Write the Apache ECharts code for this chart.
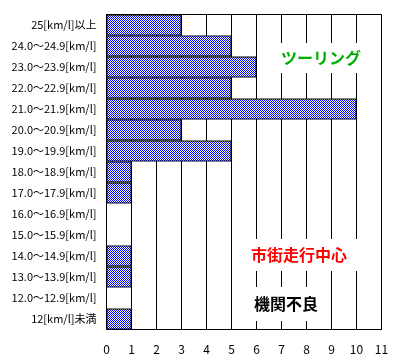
<!DOCTYPE html>
<html><head><meta charset="utf-8">
<script src="https://cdn.jsdelivr.net/npm/echarts@6/dist/echarts.min.js"></script>
<style>html,body{margin:0;padding:0;background:#fff}#c{width:396px;height:364px}</style>
</head><body><div id="c"></div>
<script>
const categories = ['25[km/l]以上','24.0～24.9[km/l]','23.0～23.9[km/l]','22.0～22.9[km/l]','21.0～21.9[km/l]','20.0～20.9[km/l]','19.0～19.9[km/l]','18.0～18.9[km/l]','17.0～17.9[km/l]','16.0～16.9[km/l]','15.0～15.9[km/l]','14.0～14.9[km/l]','13.0～13.9[km/l]','12.0～12.9[km/l]','12[km/l]未満'];
const counts = [3,5,6,5,10,3,5,1,1,0,0,1,1,0,1];
const xTicks = [0,1,2,3,4,5,6,7,8,9,10,11];
const notes = [
  {text:'ツーリング', color:'#00b000'},
  {text:'市街走行中心', color:'#ff0000'},
  {text:'機関不良', color:'#000000'}
];

const pc = document.createElement('canvas');
pc.width = 8; pc.height = 8;
const g = pc.getContext('2d');
g.fillStyle = '#ffffff'; g.fillRect(0,0,8,8);
g.fillStyle = '#0000ff';
for (let yy = 0; yy < 8; yy++) for (let xx = 0; xx < 8; xx++) if ((xx + yy) % 2 === 0) g.fillRect(xx,yy,1,1);

const FF = '"Noto Sans CJK JP", sans-serif';
const chart = echarts.init(document.getElementById('c'), null, {renderer:'canvas'});
chart.setOption({
  animation: false,
  backgroundColor: '#fff',
  grid: {left:106.5, right:14.5, top:14.5, bottom:34.5, show:true, borderColor:'#000', borderWidth:1, backgroundColor:'transparent'},
  xAxis: {
    type:'value', min:xTicks[0], max:xTicks[xTicks.length-1], interval:1,
    axisLine:{show:true, lineStyle:{color:'#000', width:1}},
    axisTick:{show:false},
    splitLine:{show:true, lineStyle:{color:'#000', width:1}},
    axisLabel:{color:'#000', fontSize:12, fontFamily:FF, margin:14}
  },
  yAxis: {
    type:'category', data:categories, inverse:true,
    axisLine:{show:true, lineStyle:{color:'#000', width:1}},
    axisTick:{show:false},
    axisLabel:{color:'#000', fontSize:11, fontFamily:FF, margin:10}
  },
  series: [{
    type:'bar', data:counts.map(v => v === 0 ? '-' : v),
    barCategoryGap:0, barGap:0,
    itemStyle:{color:{image:pc, repeat:'repeat'}, borderColor:'#000', borderWidth:1}
  }],
  graphic: [
    {type:'text', x:321, y:58, z:100, style:{text:notes[0].text, fill:notes[0].color, font:'bold 16px '+FF, align:'center', verticalAlign:'middle', backgroundColor:'#fff', padding:[7,18]}},
    {type:'text', x:299, y:255, z:100, style:{text:notes[1].text, fill:notes[1].color, font:'bold 16px '+FF, align:'center', verticalAlign:'middle', backgroundColor:'#fff', padding:[8,14]}},
    {type:'text', x:286, y:304, z:100, style:{text:notes[2].text, fill:notes[2].color, font:'bold 16px '+FF, align:'center', verticalAlign:'middle', backgroundColor:'#fff', padding:[9,6]}}
  ]
});
</script></body></html>
